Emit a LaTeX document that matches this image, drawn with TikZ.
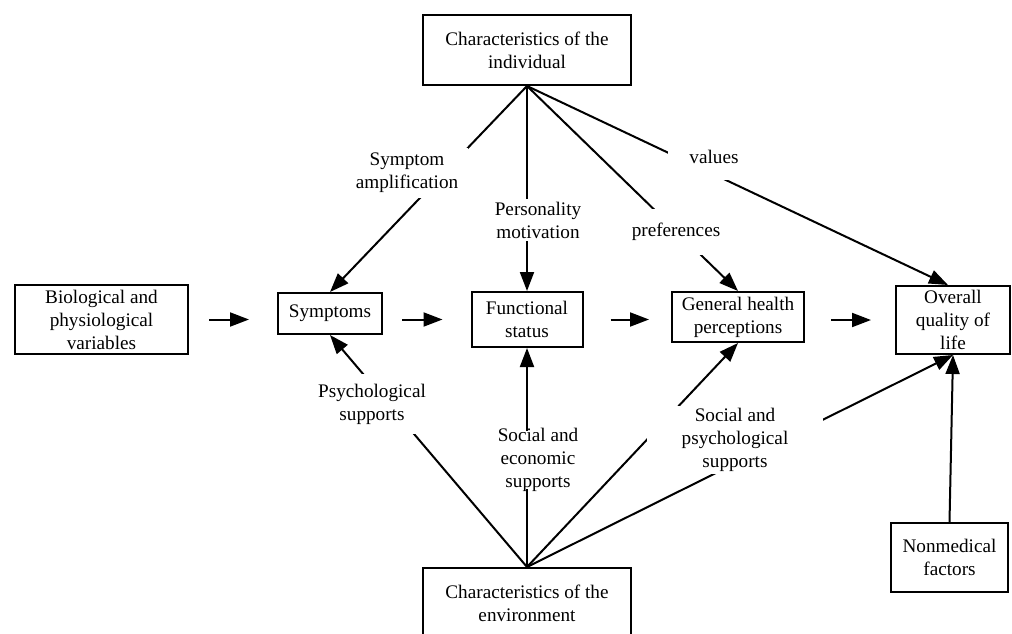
\documentclass[tikz,border=0pt]{standalone}
\usepackage{fontspec}
\setmainfont{Liberation Serif}
\usetikzlibrary{arrows.meta}
\begin{document}
\begin{tikzpicture}[x=1pt,y=-1pt,
  box/.style={draw, line width=2pt, align=center, inner sep=0pt,
    font=\fontsize{19.2}{23}\selectfont},
  lab/.style={fill=white, align=center, font=\fontsize{19.2}{23}\selectfont},
  link/.style={line width=2pt, -{Triangle[length=19pt,width=14pt]}}]
\useasboundingbox (0,0) rectangle (1012,634);
\clip (0,0) rectangle (1012,634);

% boxes
\node[box, minimum width=208pt, minimum height=70pt] (indiv) at (527,50) {Characteristics of the\\individual};
\node[box, minimum width=208pt, minimum height=70pt] (env) at (527,603) {Characteristics of the\\environment};
\node[box, minimum width=173pt, minimum height=69pt] (bio) at (101.5,319.5) {Biological and\\physiological\\variables};
\node[box, minimum width=104pt, minimum height=41pt] (sym) at (330,313.5) {Symptoms};
\node[box, minimum width=111pt, minimum height=55pt] (func) at (527,319.5) {Functional\\status};
\node[box, minimum width=132pt, minimum height=50pt] (gen) at (738,317) {General health\\perceptions};
\node[box, minimum width=114pt, minimum height=68pt] (qol) at (953,320) {Overall\\quality of\\life};
\node[box, minimum width=117pt, minimum height=69pt] (nonmed) at (949.5,557.5) {Nonmedical\\factors};

% main causal chain
\draw[link, shorten <=20pt, shorten >=28pt] (bio.east) -- (bio.east -| sym.west);
\draw[link, shorten <=19pt, shorten >=28pt] (sym.east |- func) -- (func.west);
\draw[link, shorten <=27pt, shorten >=22pt] (func.east) -- (func.east -| gen.west);
\draw[link, shorten <=26pt, shorten >=24pt] (gen.east |- qol) -- (qol.west);

% influences of the individual
\draw[link] (indiv.south) -- (sym.north);
\draw[link] (indiv.south) -- (func.north);
\draw[link] (indiv.south) -- (gen.north);
\draw[link] (indiv.south) -- ([xshift=-5pt]qol.north);

% influences of the environment
\draw[link] (env.north) -- (sym.south);
\draw[link] (env.north) -- (func.south);
\draw[link] (env.north) -- (gen.south);
\draw[link] (env.north) -- (qol.south);
\draw[link] (nonmed.north) -- (qol.south);

% labels that break the lines
\node[lab, inner xsep=10pt, inner ysep=5pt] (lamp) at (407,173) {Symptom\\amplification};
\node[lab, inner sep=3pt] (lpers) at (538,220) {Personality\\motivation};
\node[lab, inner xsep=3pt, inner ysep=14pt] (lpref) at (676,232) {preferences};
\node[lab, inner xsep=21pt, inner ysep=16pt] (lval) at (714,157) {values};
\node[lab, inner xsep=3pt, inner ysep=10pt] (lpsy) at (372,404) {Psychological\\supports};
\node[lab, inner xsep=3pt, inner ysep=-3pt] (lsoc) at (538,460) {Social and\\economic\\supports};
\node[lab, inner sep=0pt, minimum width=176pt, minimum height=68pt] (lsps) at (735,440) {Social and\\psychological\\supports};
\end{tikzpicture}
\end{document}
